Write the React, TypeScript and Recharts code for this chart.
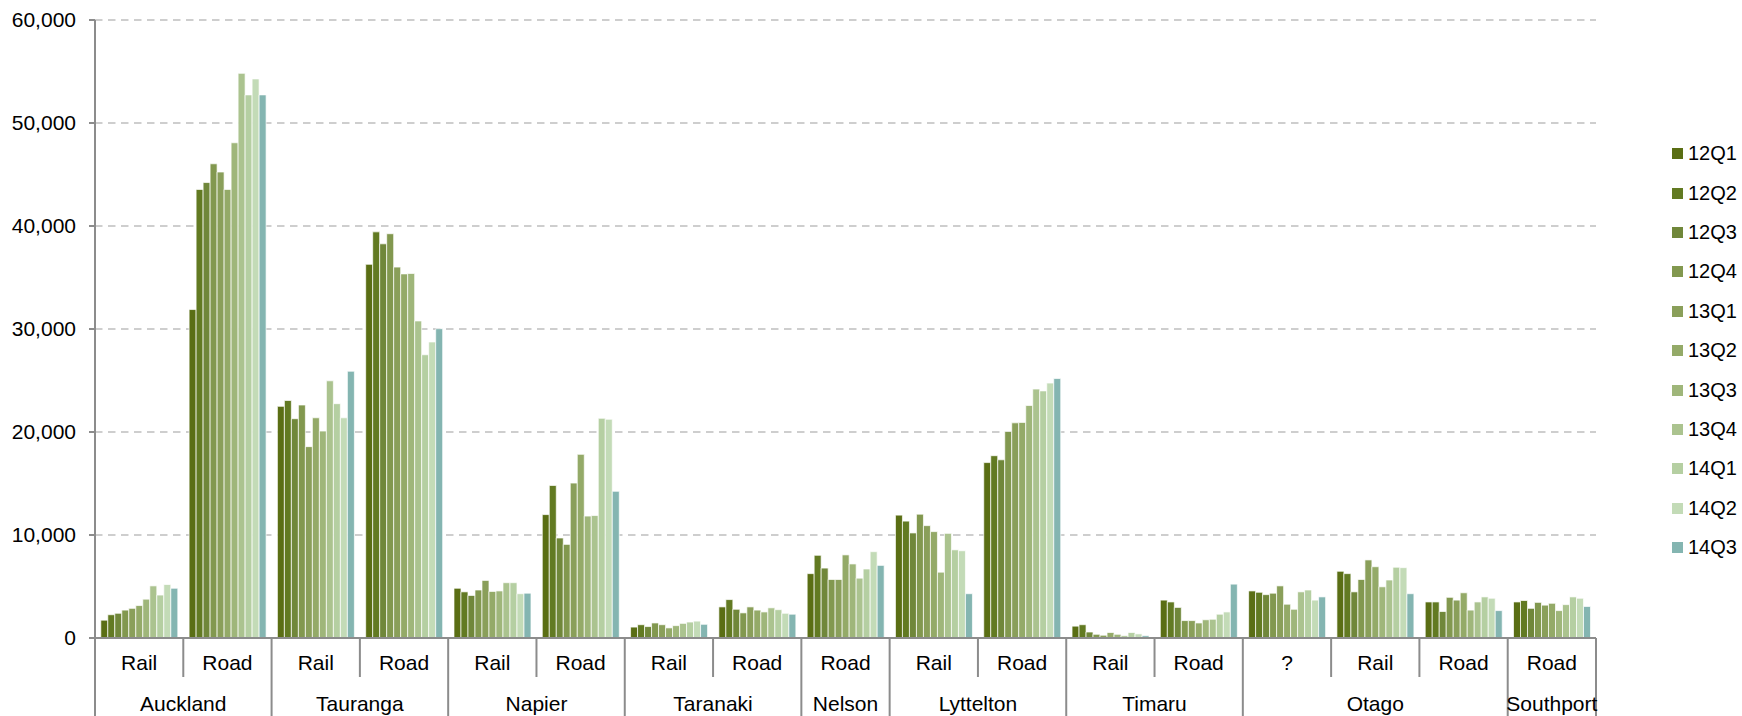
import React from 'react'
import { BarChart, Bar, XAxis, YAxis, CartesianGrid, Legend } from 'recharts'

// category levels
const modes = ['Rail', 'Road', 'Rail', 'Road', 'Rail', 'Road', 'Rail', 'Road', 'Road', 'Rail', 'Road', 'Rail', 'Road', '?', 'Rail', 'Road', 'Road']
const ports = ['Auckland', 'Auckland', 'Tauranga', 'Tauranga', 'Napier', 'Napier', 'Taranaki', 'Taranaki', 'Nelson', 'Lyttelton', 'Lyttelton', 'Timaru', 'Timaru', 'Otago', 'Otago', 'Otago', 'Southport']

const quarters = ['12Q1', '12Q2', '12Q3', '12Q4', '13Q1', '13Q2', '13Q3', '13Q4', '14Q1', '14Q2', '14Q3']

// one array per quarter, values in category order
const q12Q1 = [1730, 31890, 22490, 36280, 4830, 11980, 1060, 3020, 6250, 11930, 17030, 1150, 3680, 4570, 6480, 3500, 3500]
const q12Q2 = [2260, 43550, 23060, 39430, 4480, 14810, 1290, 3730, 8030, 11350, 17700, 1290, 3500, 4440, 6250, 3500, 3640]
const q12Q3 = [2400, 44220, 21290, 38270, 4130, 9710, 1110, 2790, 6790, 10200, 17300, 580, 2970, 4210, 4480, 2570, 2880]
const q12Q4 = [2710, 46040, 22620, 39250, 4660, 9090, 1460, 2440, 5680, 12020, 20050, 360, 1690, 4350, 5680, 3950, 3460]
const q13Q1 = [2880, 45240, 18580, 36010, 5590, 15040, 1290, 3020, 5680, 10910, 20890, 270, 1690, 5060, 7580, 3680, 3190]
const q13Q2 = [3150, 43550, 21380, 35350, 4520, 17830, 980, 2710, 8070, 10330, 20930, 530, 1460, 3280, 6920, 4390, 3370]
const q13Q3 = [3770, 48080, 20090, 35390, 4570, 11840, 1200, 2530, 7190, 6390, 22570, 360, 1770, 2790, 4970, 2710, 2660]
const q13Q4 = [5060, 54820, 24970, 30780, 5370, 11890, 1420, 2930, 5810, 10160, 24170, 220, 1820, 4480, 5630, 3500, 3240]
const q14Q1 = [4170, 52730, 22750, 27500, 5370, 21330, 1550, 2750, 6700, 8560, 23990, 530, 2310, 4660, 6870, 3990, 3990]
const q14Q2 = [5190, 54280, 21380, 28740, 4300, 21240, 1640, 2400, 8380, 8470, 24750, 400, 2530, 3680, 6830, 3860, 3860]
const q14Q3 = [4830, 52730, 25900, 30030, 4350, 14240, 1330, 2310, 7050, 4300, 25190, 220, 5230, 3990, 4300, 2660, 3060]

const yTicks = [0, 10000, 20000, 30000, 40000, 50000, 60000]

const seriesValues = [q12Q1, q12Q2, q12Q3, q12Q4, q13Q1, q13Q2, q13Q3, q13Q4, q14Q1, q14Q2, q14Q3]
const colors = ['#5a6e14', '#627a22', '#70873a', '#82984f', '#8a9f5a', '#94aa68', '#9fb67a', '#abc38f', '#b5cfa2', '#c3dbb7', '#84b5b1']

const data = modes.map((m, i) => {
  const row: Record<string, string | number> = { name: `${ports[i]} ${m}` }
  quarters.forEach((q, s) => { row[q] = seriesValues[s][i] })
  return row
})

const FONT = '"Liberation Sans", Arial, sans-serif'
const AXIS = '#8c8c8c'

function CategoryTick(props: any) {
  const { x, y, payload, index } = props
  const half = payload?.offset ?? 1501 / 17 / 2
  const left = x - half
  const first = index === 0 || ports[index] !== ports[index - 1]
  let groupSize = 0
  if (first) {
    while (ports[index + groupSize] === ports[index]) groupSize++
  }
  const last = index === ports.length - 1
  return (
    <g>
      <line x1={left} x2={left} y1={y} y2={first ? y + 78 : y + 39} stroke={AXIS} strokeWidth={2} />
      {last && <line x1={x + half} x2={x + half} y1={y} y2={y + 78} stroke={AXIS} strokeWidth={2} />}
      <text x={x} y={y + 25} dy="0.35em" textAnchor="middle" fontSize={21} fontFamily={FONT} fill="#000">{modes[index]}</text>
      {first && (
        <text x={left + groupSize * half} y={y + 66} dy="0.35em" textAnchor="middle" fontSize={21} fontFamily={FONT} fill="#000">
          {ports[index]}
        </text>
      )}
    </g>
  )
}

function LegendBox() {
  return (
    <div style={{ fontFamily: FONT, fontSize: 20, color: '#000' }}>
      {quarters.map((q, i) => (
        <div key={q} style={{ height: 39.4, display: 'flex', alignItems: 'center' }}>
          <span style={{ width: 11, height: 11, background: colors[i], display: 'inline-block', marginRight: 5 }} />
          <span>{q}</span>
        </div>
      ))}
    </div>
  )
}

export default function App() {
  return (
    <div style={{ position: 'absolute', left: 0, top: 0, width: 1742, height: 716, background: '#fff' }}>
      <BarChart
        width={1742}
        height={716}
        data={data}
        margin={{ top: 20, right: 146, left: 0, bottom: 0 }}
        barGap={0}
        barCategoryGap={5.8}
      >
        <CartesianGrid vertical={false} stroke="#bfbfbf" strokeWidth={1.4} strokeDasharray="7.5 5.5" />
        <XAxis
          dataKey="name"
          interval={0}
          height={78}
          tickSize={0}
          tickMargin={0}
          tickLine={false}
          axisLine={{ stroke: AXIS, strokeWidth: 2 }}
          tick={<CategoryTick />}
        />
        <YAxis
          width={95}
          domain={[0, 60000]}
          ticks={yTicks}
          tickSize={6}
          tickMargin={13}
          tickLine={{ stroke: AXIS, strokeWidth: 2 }}
          axisLine={{ stroke: AXIS, strokeWidth: 2 }}
          tick={{ fill: '#000', fontSize: 21, fontFamily: FONT }}
          tickFormatter={(v: number) => v.toLocaleString('en-US')}
        />
        <Legend
          layout="vertical"
          align="center"
          verticalAlign="middle"
          wrapperStyle={{ left: 1672, top: 134, width: 70 }}
          content={<LegendBox />}
        />
        {quarters.map((q, i) => (
          <Bar key={q} dataKey={q} fill={colors[i]} stroke="#ffffff" strokeWidth={0.7} isAnimationActive={false} />
        ))}
      </BarChart>
    </div>
  )
}
